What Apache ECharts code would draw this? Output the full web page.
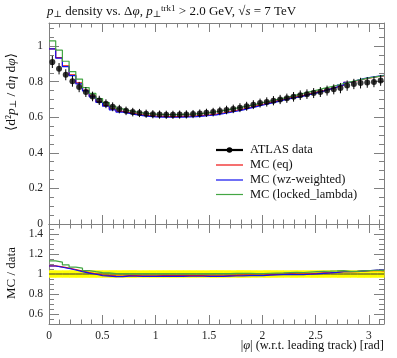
<!DOCTYPE html>
<html><head><meta charset="utf-8">
<script src="https://cdn.jsdelivr.net/npm/echarts@6/dist/echarts.min.js"></script>
<style>html,body{margin:0;padding:0;background:#fff}#c{width:397px;height:358px}</style>
</head><body><div id="c"></div>
<script>
// ---- data ----
const nBins = 50;
const phiMax = Math.PI;
const atlasData = [0.911,0.873,0.839,0.802,0.770,0.742,0.717,0.695,0.676,0.659,
  0.646,0.636,0.629,0.624,0.620,0.617,0.615,0.614,0.614,0.615,
  0.616,0.618,0.621,0.625,0.629,0.635,0.641,0.647,0.654,0.662,
  0.671,0.680,0.686,0.693,0.700,0.707,0.715,0.724,0.730,0.736,
  0.742,0.750,0.757,0.764,0.778,0.787,0.792,0.796,0.799,0.807];
const atlasErr = [0.034,0.032,0.031,0.030,0.029,0.028,0.027,0.026,0.025,0.025,
  0.024,0.024,0.024,0.023,0.023,0.023,0.023,0.023,0.023,0.023,
  0.023,0.023,0.023,0.023,0.024,0.024,0.024,0.024,0.025,0.025,
  0.025,0.025,0.026,0.026,0.026,0.026,0.027,0.027,0.027,0.028,
  0.028,0.028,0.028,0.029,0.029,0.029,0.030,0.030,0.030,0.030];
const mcEq = [0.985,0.935,0.889,0.838,0.793,0.752,0.719,0.688,0.666,0.646,
  0.633,0.626,0.619,0.613,0.609,0.606,0.605,0.604,0.604,0.605,
  0.606,0.608,0.611,0.614,0.618,0.624,0.631,0.638,0.646,0.655,
  0.664,0.673,0.682,0.691,0.700,0.709,0.715,0.723,0.732,0.741,
  0.750,0.760,0.770,0.781,0.796,0.806,0.815,0.822,0.828,0.833];
const mcWz = [0.984,0.932,0.885,0.834,0.788,0.748,0.715,0.684,0.662,0.642,
  0.629,0.622,0.615,0.609,0.605,0.602,0.601,0.600,0.600,0.601,
  0.602,0.604,0.607,0.610,0.614,0.620,0.627,0.634,0.642,0.651,
  0.660,0.669,0.678,0.687,0.696,0.705,0.711,0.719,0.728,0.737,
  0.747,0.758,0.769,0.781,0.797,0.808,0.817,0.824,0.830,0.836];
const mcLocked = [1.030,0.977,0.915,0.857,0.815,0.767,0.734,0.705,0.683,0.662,
  0.647,0.637,0.630,0.625,0.621,0.618,0.616,0.615,0.615,0.616,
  0.617,0.619,0.622,0.626,0.631,0.637,0.644,0.651,0.658,0.666,
  0.674,0.683,0.691,0.700,0.708,0.717,0.726,0.735,0.744,0.753,
  0.762,0.771,0.780,0.790,0.799,0.808,0.816,0.823,0.829,0.835];
const xMajor = [0,0.5,1,1.5,2,2.5,3];
const xMinor = [0.1,0.2,0.3,0.4,0.6,0.7,0.8,0.9,1.1,1.2,1.3,1.4,1.6,1.7,1.8,1.9,2.1,2.2,2.3,2.4,2.6,2.7,2.8,2.9,3.1];
const yMainMajor = [0,0.2,0.4,0.6,0.8,1];
const yMainMinor = [0.05,0.1,0.15,0.25,0.3,0.35,0.45,0.5,0.55,0.65,0.7,0.75,0.85,0.9,0.95,1.05,1.1];
const yRatioMajor = [0.6,0.8,1,1.2,1.4];
const yRatioMinor = [0.55,0.65,0.7,0.75,0.85,0.9,0.95,1.05,1.1,1.15,1.25,1.3,1.35,1.45];
const seriesNames = ['MC (eq)','MC (wz-weighted)','MC (locked_lambda)'];

// ---- derived ----
const edges = [];
for (let i = 0; i <= nBins; i++) edges.push(i * phiMax / nBins);
const centers = atlasData.map((v, i) => (edges[i] + edges[i + 1]) / 2);
function hist(vals) { const p = []; vals.forEach((v, i) => { p.push([edges[i], v]); p.push([edges[i + 1], v]); }); return p; }
const ratio = arr => arr.map((v, i) => v / atlasData[i]);

const FONT = "'Liberation Serif', 'DejaVu Serif', serif";
const AX = '#808080';
const colors = ['#ee1111', '#1111ee', '#44a644'];

function xAxesFor(grid, labels) {
  const base = { type: 'value', gridIndex: grid, min: 0, max: phiMax, splitLine: { show: false } };
  return [
    Object.assign({}, base, { position: 'bottom', axisLine: { show: true, onZero: false, lineStyle: { color: AX } },
      axisTick: { inside: true, length: 9, customValues: xMajor, lineStyle: { color: AX } },
      axisLabel: { show: labels, customValues: xMajor, color: '#222', fontFamily: FONT, fontSize: 11.5, margin: 6 } }),
    Object.assign({}, base, { position: 'bottom', axisLine: { show: false, onZero: false },
      axisTick: { inside: true, length: 4.5, customValues: xMinor, lineStyle: { color: AX } }, axisLabel: { show: false } }),
    Object.assign({}, base, { position: 'top', axisLine: { show: true, onZero: false, lineStyle: { color: AX } },
      axisTick: { inside: true, length: 9, customValues: xMajor, lineStyle: { color: AX } }, axisLabel: { show: false } }),
    Object.assign({}, base, { position: 'top', axisLine: { show: false, onZero: false },
      axisTick: { inside: true, length: 4.5, customValues: xMinor, lineStyle: { color: AX } }, axisLabel: { show: false } })
  ];
}
function yAxesFor(grid, min, max, major, minor) {
  const base = { type: 'value', gridIndex: grid, min: min, max: max, splitLine: { show: false } };
  return [
    Object.assign({}, base, { position: 'left', axisLine: { show: true, onZero: false, lineStyle: { color: AX } },
      axisTick: { inside: true, length: 10, customValues: major, lineStyle: { color: AX } },
      axisLabel: { show: true, customValues: major, color: '#222', fontFamily: FONT, fontSize: 11.5, margin: 6 } }),
    Object.assign({}, base, { position: 'left', axisLine: { show: false, onZero: false },
      axisTick: { inside: true, length: 5, customValues: minor, lineStyle: { color: AX } }, axisLabel: { show: false } }),
    Object.assign({}, base, { position: 'right', axisLine: { show: true, onZero: false, lineStyle: { color: AX } },
      axisTick: { inside: true, length: 10, customValues: major, lineStyle: { color: AX } }, axisLabel: { show: false } }),
    Object.assign({}, base, { position: 'right', axisLine: { show: false, onZero: false },
      axisTick: { inside: true, length: 5, customValues: minor, lineStyle: { color: AX } }, axisLabel: { show: false } })
  ];
}

const series = [];
[mcEq, mcWz, mcLocked].forEach((arr, k) => {
  series.push({ type: 'line', name: seriesNames[k], xAxisIndex: 0, yAxisIndex: 0, data: hist(arr), showSymbol: false,
    lineStyle: { color: colors[k], width: 1.2 }, itemStyle: { color: colors[k] }, animation: false, z: 3 });
});
series.push({ type: 'custom', xAxisIndex: 0, yAxisIndex: 0, animation: false, z: 4,
  data: atlasData.map((v, i) => [centers[i], v, atlasErr[i]]),
  encode: { x: 0, y: 1 },
  renderItem: (p, api) => {
    const x = api.value(0), y = api.value(1), e = api.value(2);
    const a = api.coord([x, y + e]), b = api.coord([x, y - e]);
    return { type: 'line', shape: { x1: a[0], y1: a[1], x2: b[0], y2: b[1] }, style: { stroke: '#000', lineWidth: 1 } };
  } });
series.push({ type: 'scatter', name: 'ATLAS data', xAxisIndex: 0, yAxisIndex: 0, symbolSize: 6,
  data: atlasData.map((v, i) => [centers[i], v]), itemStyle: { color: '#000' }, animation: false, z: 5 });

series.push({ type: 'custom', xAxisIndex: 4, yAxisIndex: 4, animation: false, z: 1,
  data: atlasData.map((v, i) => [edges[i], edges[i + 1], 1 - atlasErr[i] / v, 1 + atlasErr[i] / v]),
  encode: { x: [0, 1], y: [2, 3] },
  renderItem: (p, api) => {
    const a = api.coord([api.value(0), api.value(3)]), b = api.coord([api.value(1), api.value(2)]);
    return { type: 'rect', shape: { x: a[0], y: a[1], width: b[0] - a[0] + 0.5, height: b[1] - a[1] }, style: { fill: '#ffff00' } };
  } });
series.push({ type: 'line', xAxisIndex: 4, yAxisIndex: 4, data: hist(ratio(atlasData)), showSymbol: false,
  lineStyle: { color: '#333', width: 1 }, animation: false, z: 2 });
[mcEq, mcWz, mcLocked].forEach((arr, k) => {
  series.push({ type: 'line', xAxisIndex: 4, yAxisIndex: 4, data: hist(ratio(arr)), showSymbol: false,
    lineStyle: { color: colors[k], width: 1.2 }, animation: false, z: 3 });
});

const legendY = [150, 165, 180, 194.5];
const legendLabels = ['ATLAS data'].concat(seriesNames);
const legendColors = ['#000'].concat(colors);
const graphic = [];
legendLabels.forEach((t, i) => {
  graphic.push({ type: 'line', shape: { x1: 216, y1: legendY[i], x2: 243, y2: legendY[i] },
    style: { stroke: legendColors[i], lineWidth: i === 0 ? 2.2 : 1.2 } });
  if (i === 0) graphic.push({ type: 'circle', shape: { cx: 229.5, cy: legendY[i], r: 2.8 }, style: { fill: '#000' } });
  graphic.push({ type: 'text', x: 250, y: legendY[i], style: { text: t, font: '12.5px ' + FONT, fill: '#111', verticalAlign: 'middle' } });
});
graphic.push({ type: 'text', x: 47, y: 4, style: {
  text: '{i|p}{sub|⊥} density vs. Δ{i|φ}, {i|p}{sub|⊥}{sup|trk1} > 2.0 GeV, √{i|s} = 7 TeV',
  font: '13px ' + FONT, fill: '#111', verticalAlign: 'top',
  rich: { i: { fontStyle: 'italic', fontFamily: FONT, fontSize: 13 },
          sub: { fontFamily: FONT, fontSize: 9, padding: [6, 0, 0, 0] },
          sup: { fontFamily: FONT, fontSize: 9, padding: [0, 0, 6, 0] } } } });
graphic.push({ type: 'text', x: 11, y: 92, rotation: Math.PI / 2, style: {
  text: '⟨d²{i|p}{sub|⊥} / d{i|η} d{i|φ}⟩', font: '13.5px ' + FONT, fill: '#111', align: 'center', verticalAlign: 'middle',
  rich: { i: { fontStyle: 'italic', fontFamily: FONT, fontSize: 13.5 },
          sub: { fontFamily: FONT, fontSize: 9, padding: [6, 0, 0, 0] } } } });
graphic.push({ type: 'text', x: 12, y: 273, rotation: Math.PI / 2, style: {
  text: 'MC / data', font: '13px ' + FONT, fill: '#111', align: 'center', verticalAlign: 'middle' } });
graphic.push({ type: 'text', x: 384, y: 346, style: {
  text: '|{i|φ}| (w.r.t. leading track) [rad]', font: '12.5px ' + FONT, fill: '#111', align: 'right', verticalAlign: 'middle',
  rich: { i: { fontStyle: 'italic', fontFamily: FONT, fontSize: 12.5 } } } });

const chart = echarts.init(document.getElementById('c'), null, { renderer: 'canvas' });
chart.setOption({
  animation: false,
  backgroundColor: '#fff',
  grid: [
    { left: 49, top: 23, width: 335, height: 201 },
    { left: 49, top: 224, width: 335, height: 100 }
  ],
  xAxis: xAxesFor(0, false).concat(xAxesFor(1, true)),
  yAxis: yAxesFor(0, 0, 1.13, yMainMajor, yMainMinor).concat(yAxesFor(1, 0.5, 1.5, yRatioMajor, yRatioMinor)),
  series: series,
  graphic: graphic
});
</script></body></html>
